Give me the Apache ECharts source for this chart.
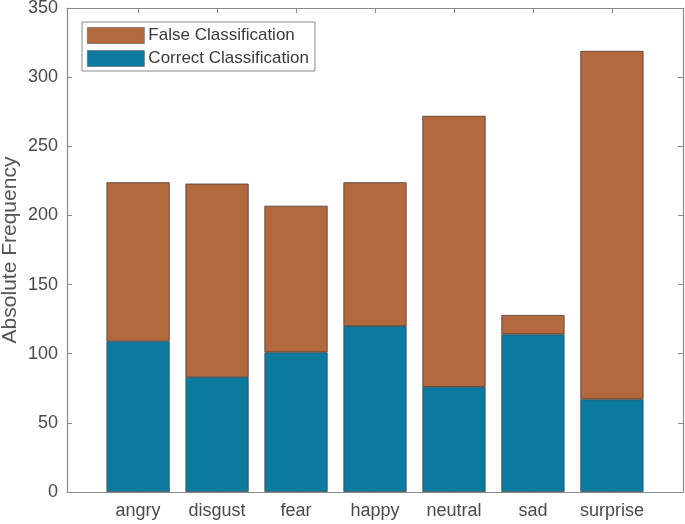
<!DOCTYPE html>
<html>
<head>
<meta charset="utf-8">
<script src="https://cdn.jsdelivr.net/npm/echarts@6/dist/echarts.min.js"></script>
<style>html,body{margin:0;padding:0;background:#fff}#c{width:685px;height:524px}</style>
</head>
<body>
<div id="c"></div>
<script>
const categories = ['angry','disgust','fear','happy','neutral','sad','surprise'];
const correctValues = [109, 83, 101, 120, 76, 114, 67];
const falseValues = [115, 140, 106, 104, 196, 14, 252];
const yTicks = [0, 50, 100, 150, 200, 250, 300, 350];

const font = 'Liberation Sans, Arial, Helvetica, sans-serif';
const axisColor = '#8a8a8a';
const labelColor = '#4a4a4a';

// frame grid (MATLAB axes box): x from 0.1 to 7.9 in category units
const frame = { left: 67, right: 2, top: 8, bottom: 32 };
const frameW = 685 - frame.left - frame.right;
const xMin = 0.1, xMax = 7.9;
const unit = frameW / (xMax - xMin);
const barGrid = {
  left: frame.left + (0.5 - xMin) * unit,
  width: categories.length * unit,
  top: frame.top, bottom: frame.bottom
};
const tickPositions = categories.map((c, i) => i + 1);

const chart = echarts.init(document.getElementById('c'));
const frameX = (pos) => ({
  type: 'value', gridIndex: 0, position: pos, min: xMin, max: xMax,
  splitLine: { show: false }, axisLabel: { show: false },
  axisLine: { show: true, onZero: false, lineStyle: { color: axisColor, width: 1.2 } },
  axisTick: { show: true, inside: true, length: 5, customValues: tickPositions, lineStyle: { color: axisColor } }
});
const frameY = (pos, labels) => ({
  type: 'value', gridIndex: 0, position: pos, min: yTicks[0], max: yTicks[yTicks.length - 1], interval: 50,
  splitLine: { show: false },
  axisLine: { show: true, lineStyle: { color: axisColor, width: 1.2 } },
  axisTick: { show: true, inside: true, length: 5, lineStyle: { color: axisColor } },
  axisLabel: { show: labels, margin: 9, fontSize: 18, color: labelColor, fontFamily: font }
});
const yLeft = frameY('left', true);
Object.assign(yLeft, {
  name: 'Absolute Frequency', nameLocation: 'middle', nameGap: 46, nameMoveOverlap: false,
  nameTextStyle: { fontSize: 21, color: '#555', fontFamily: font }
});

chart.setOption({
  animation: false,
  textStyle: { fontFamily: font },
  grid: [
    Object.assign({ containLabel: false, outerBoundsMode: 'none' }, frame),
    Object.assign({ containLabel: false, outerBoundsMode: 'none' }, barGrid)
  ],
  legend: {
    data: ['False Classification', 'Correct Classification'],
    orient: 'vertical', left: 82, top: 22, icon: 'rect',
    itemWidth: 57, itemHeight: 16, itemGap: 6,
    padding: [5, 6, 4, 5],
    borderColor: '#8a8a8a', borderWidth: 1, backgroundColor: '#fff',
    itemStyle: { borderColor: '#6a6a6a', borderWidth: 0.7 },
    textStyle: { fontSize: 17, color: '#3a3a3a', fontFamily: font, padding: [0, 0, 0, -1] }
  },
  xAxis: [
    frameX('bottom'),
    frameX('top'),
    {
      type: 'category', gridIndex: 1, data: categories, position: 'bottom',
      axisLine: { show: false }, axisTick: { show: false },
      axisLabel: { margin: 10, fontSize: 18, color: labelColor, fontFamily: font, interval: 0 }
    }
  ],
  yAxis: [
    yLeft,
    frameY('right', false),
    {
      type: 'value', gridIndex: 1, min: yTicks[0], max: yTicks[yTicks.length - 1],
      show: false, splitLine: { show: false }
    }
  ],
  series: [
    {
      name: 'Correct Classification', type: 'bar', stack: 'total', barWidth: '80%',
      xAxisIndex: 2, yAxisIndex: 2,
      itemStyle: { color: '#0a7a9e', borderColor: '#3c4a50', borderWidth: 0.8 },
      data: correctValues
    },
    {
      name: 'False Classification', type: 'bar', stack: 'total', barWidth: '80%',
      xAxisIndex: 2, yAxisIndex: 2,
      itemStyle: { color: '#b3683d', borderColor: '#4a3a30', borderWidth: 0.8 },
      data: falseValues
    }
  ]
});
</script>
</body>
</html>
